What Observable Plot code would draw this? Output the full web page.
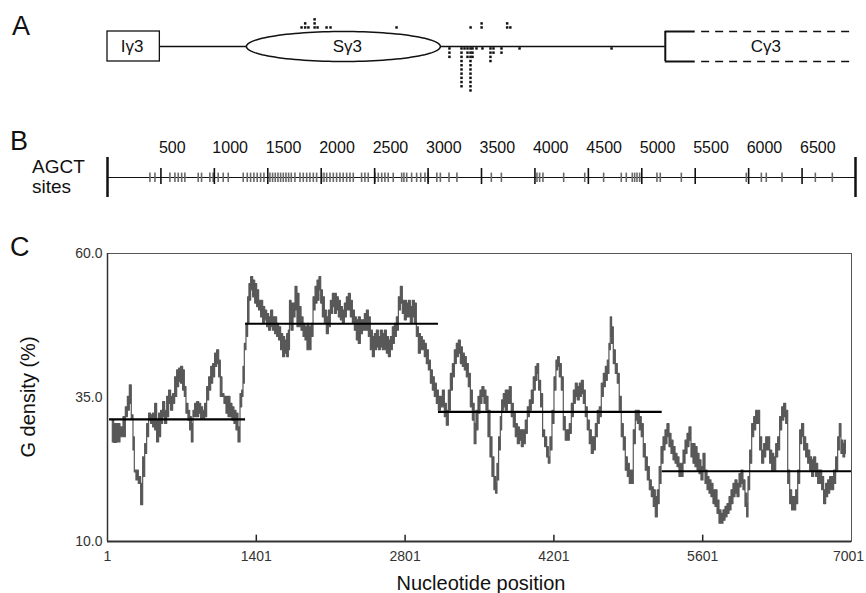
<!DOCTYPE html>
<html><head><meta charset="utf-8">
<script src="https://cdn.jsdelivr.net/npm/d3@7"></script>
<script src="https://cdn.jsdelivr.net/npm/@observablehq/plot@0.6"></script>
<style>
body{margin:0;background:#fff;}
#wrap{position:relative;width:866px;height:593px;overflow:hidden;font-family:"Liberation Sans",Arial,Helvetica,sans-serif;color:#111;}
.t{position:absolute;white-space:nowrap;line-height:1;}
.letter{font-size:27px;}
#wrap svg{position:absolute;left:0;}
</style></head>
<body><div id="wrap">
<div class="t letter" style="left:12px;top:13px">A</div>
<div class="t letter" style="left:10px;top:128px">B</div>
<div class="t letter" style="left:10px;top:234px">C</div>
<div class="t" style="left:32px;top:157px;font-size:19px">AGCT</div>
<div class="t" style="left:32px;top:177px;font-size:19px">sites</div>
<div class="t" id="ylab" style="left:28px;top:397px;font-size:20px;transform:translate(-50%,-50%) rotate(-90deg)">G density (%)</div>
<div class="t" id="xlab" style="left:481px;top:583px;font-size:20px;transform:translate(-50%,-50%)">Nucleotide position</div>
</div>
<script>
// ---------- Panel A: gene map (nucleotide coordinates) ----------
const exonNames = ["Iγ3", "Sγ3", "Cγ3"];
const exonLabelPos = [230, 2245, 6160];
const iExon = [0, 490];
const switchRegion = [1300, 3115];
const cStart = 5220, cSolidEnd = 5500, mapEnd = 7000;
// mutations above (insert row) and below the line: position, stacked count
const upPos =   [1816, 1850, 1880, 1938, 1966, 2050, 2087, 2705, 3398, 3501, 3740, 3770];
const upCount = [1,    2,    1,    3,    1,    1,    1,    1,    1,    2,    2,    1];
const downPos =   [3200, 3313, 3341, 3369, 3397, 3416, 3453, 3509, 3584, 3612, 3687, 3856, 4717];
const downCount = [3,    10,   1,    3,    11,   3,    1,    1,    4,    2,    2,    1,    1];

// ---------- Panel B: AGCT sites ----------
const scaleTicks = [500,1000,1500,2000,2500,3000,3500,4000,4500,5000,5500,6000,6500];
const agctSites = [397,444,584,631,662,694,724,849,880,958,989,1036,1083,1130,1270,1308,1339,1370,1401,1433,1464,
 1520,1545,1570,1595,1620,1645,1670,1695,1720,1754,1801,1832,1864,1894,1926,1957,2004,2026,2051,2082,2113,2144,2175,
 2206,2238,2269,2300,2378,2409,2440,2503,2534,2566,2596,2627,2674,2753,2774,2800,2846,2893,2931,2971,3002,3082,3115,
 3196,3270,3592,3686,4019,4044,4075,4269,4466,4643,4808,4855,4911,4933,4955,4980,5142,5173,5370,5978,6119,6165,6312,6624,6783];

// ---------- Panel C: G density ----------
const gPos = [51,76,107,139,164,183,202,220,239,252,264,283,308,327,346,365,383,402,421,440,459,477,496,515,534,553,572,590,609,628,647,666,684,703,722,735,753,772,785,804,816,835,854,873,891,910,929,948,967,986,1004,1023,1042,1061,1073,1092,1111,1130,1149,1167,1186,1205,1224,1243,1262,1274,1287,1299,1318,1330,1343,1362,1381,1400,1418,1437,1456,1475,1494,1512,1531,1550,1569,1588,1606,1625,1644,1663,1682,1701,1713,
1723,1742,1761,1779,1798,1817,1836,1855,1873,1892,1911,1930,1949,1968,1986,2005,2018,2037,2055,2074,2093,2112,2131,2149,2168,2187,2206,2225,2244,2262,2281,2300,2319,2338,2356,2375,2394,2413,2432,2451,2469,2488,2507,2526,2545,2563,2582,2601,2620,2639,2658,2676,2695,2714,2733,2752,2770,2789,2808,2827,2846,2864,2883,2902,2921,2940,2959,2977,2996,3015,3034,3053,3071,3090,3109,3128,3147,3166,3184,3203,3222,3241,3260,3278,3297,3316,3335,3354,3372,3391,3410,3429,3448,
3463,3482,3501,3519,3538,3557,3576,3595,3614,3632,3651,3664,3676,3695,3708,3720,3739,3758,3777,3795,3814,3833,3852,3871,3890,3908,3927,3946,3965,3984,4002,4021,4040,4053,4071,4090,4109,4128,4147,4159,4178,4197,4216,4234,4247,4266,4285,4303,4322,4341,4360,4379,4398,4416,4435,4454,4473,4492,4510,4529,4548,4567,4586,4605,4623,4642,4661,4680,4699,4717,4730,4742,4755,4774,4793,4811,4830,4849,4868,4887,4906,4924,4943,4962,4981,5000,5018,5037,5056,5075,5094,5113,5131,5150,5169,5188,
5204,5223,5242,5260,5279,5298,5317,5336,5355,5373,5392,5411,5430,5449,5467,5486,5505,5524,5543,5562,5580,5599,5618,5637,5656,5674,5693,5712,5731,5750,5768,5787,5806,5825,5844,5863,5881,5900,5919,5938,5957,5975,5994,6013,6026,6038,6057,6076,6095,6113,6132,6151,6170,6189,6208,6226,6245,6264,6283,6302,6320,6339,6358,6377,6396,6415,6433,6452,6471,6490,6509,6527,6546,6565,6584,6603,6622,6640,6659,6678,6697,6716,6734,6753,6772,6791,6810,6828,6847,6866,6885,6897,6916,6935,6948];
const gHigh = [31.0,30.4,30.4,29.8,31.6,33.3,35.1,37.1,31.9,28.1,22.3,22.3,21.2,20.0,24.6,26.9,30.4,32.2,31.9,32.2,33.9,31.0,32.2,32.7,34.2,32.7,35.1,36.2,35.1,35.6,38.5,39.7,40.0,40.3,39.7,36.8,33.9,32.7,31.6,30.4,32.7,33.9,34.2,33.9,33.3,32.7,33.9,36.8,38.5,40.3,40.8,42.6,43.2,41.4,38.5,35.6,35.1,35.1,35.1,33.9,33.3,32.7,32.2,29.8,35.6,36.2,40.3,44.3,47.8,52.4,54.7,55.9,55.3,54.7,53.6,51.8,51.8,50.7,50.1,49.5,48.9,50.1,48.9,48.9,47.8,47.2,46.0,45.5,44.9,46.0,46.6,
51.8,51.3,51.3,54.2,53.0,50.7,48.9,47.8,47.2,47.8,47.2,47.8,52.4,54.2,55.3,55.9,53.6,52.4,50.1,48.9,50.1,51.8,53.0,53.0,52.4,51.8,50.7,50.1,51.3,52.4,53.0,51.8,50.1,48.9,48.4,48.9,48.4,48.4,49.5,50.1,48.9,46.6,45.5,46.0,46.6,45.5,46.6,46.0,46.6,45.5,44.9,45.5,47.2,47.8,48.9,52.4,54.2,51.8,51.8,51.3,51.8,50.7,51.8,51.3,47.2,46.0,45.5,44.9,44.3,43.2,41.4,39.7,38.5,37.4,36.2,35.1,35.1,36.2,33.9,32.7,36.2,39.1,40.8,43.2,44.3,44.9,43.7,42.6,42.0,40.8,39.1,36.2,33.9,
30.4,32.7,35.1,36.2,36.8,36.2,35.1,32.7,28.1,24.6,21.2,20.0,23.5,28.1,31.6,34.5,35.6,36.2,36.2,36.8,33.9,32.2,30.4,29.8,29.3,29.3,29.3,31.0,33.3,34.5,36.2,38.5,40.3,40.8,37.9,35.6,29.3,28.1,26.4,24.6,28.1,32.7,38.5,41.4,42.0,40.8,38.5,31.6,29.3,29.3,30.4,33.9,36.2,37.4,36.8,37.4,37.9,36.2,33.3,31.0,29.3,28.1,28.1,30.4,32.7,33.3,37.4,39.1,40.3,41.4,44.3,48.9,47.2,43.2,40.8,39.1,35.1,30.4,28.1,24.6,23.5,22.3,22.3,29.3,32.7,32.7,31.6,30.4,26.9,24.6,22.9,20.6,19.4,18.9,17.7,18.9,
22.9,26.4,28.1,29.3,30.4,28.7,27.5,26.4,25.2,24.6,23.5,23.5,25.8,27.5,28.7,29.8,26.9,26.9,26.4,25.2,24.1,22.9,25.2,22.3,21.2,20.6,20.0,18.9,18.9,17.1,15.4,14.8,15.4,16.0,16.5,17.7,18.9,20.0,20.6,20.0,21.7,22.3,20.6,18.3,16.5,21.2,25.8,30.4,31.6,32.7,32.7,28.1,25.8,26.9,28.1,28.1,25.8,25.2,24.6,26.9,28.1,31.6,33.3,33.9,32.7,22.3,18.9,17.7,17.7,18.9,22.3,29.3,30.4,28.1,26.9,25.8,24.6,24.1,24.6,23.5,22.3,22.3,21.2,18.9,20.0,20.6,21.2,21.2,22.3,24.6,28.1,30.4,27.5,26.9,27.5];
const gLow = [27.2,27.1,27.2,28.1,28.1,31.6,32.7,33.9,31.3,25.8,22.0,20.6,20.0,16.3,21.2,25.2,28.1,31.0,30.4,29.8,29.3,27.2,28.1,30.4,31.6,30.4,31.6,33.9,32.7,33.9,35.1,36.8,37.7,37.4,36.2,35.1,32.2,31.0,29.3,27.2,31.6,31.6,31.6,32.2,31.3,31.3,31.6,34.5,36.2,37.4,38.5,40.3,40.8,38.5,35.1,35.1,33.9,32.2,31.6,31.6,31.0,30.4,29.3,27.2,33.3,35.1,37.4,43.2,45.5,47.8,51.8,53.6,52.4,51.3,50.7,50.1,48.9,47.8,48.4,47.2,46.6,47.2,46.6,46.0,45.5,44.9,43.2,42.0,42.6,42.0,43.2,
47.8,46.6,48.9,50.1,47.2,47.2,46.6,45.5,44.9,43.2,43.2,45.5,50.1,51.3,51.8,53.6,51.3,48.9,47.8,46.0,47.2,49.5,50.7,49.5,50.1,48.9,48.4,47.8,48.9,50.1,50.1,48.9,47.8,46.6,44.9,44.3,46.0,46.6,46.6,46.6,45.5,43.2,42.0,43.2,43.7,43.2,43.7,43.2,43.2,42.6,42.0,43.2,44.3,45.5,46.6,50.1,51.3,49.5,48.4,48.9,48.9,47.8,48.9,47.8,45.5,42.6,43.2,43.2,42.0,40.8,39.7,37.4,36.2,35.1,33.9,32.7,33.3,33.3,31.6,30.1,32.7,36.2,38.5,40.8,42.0,42.6,40.8,40.3,39.7,38.5,36.8,33.3,31.0,
26.9,29.3,32.2,33.9,35.1,33.9,32.7,28.1,24.6,21.2,18.9,18.3,20.6,25.8,29.3,32.7,33.3,32.7,33.9,33.9,31.6,29.8,28.1,26.9,27.5,26.4,26.9,28.7,31.6,32.7,33.9,36.2,37.9,39.1,36.2,33.3,28.1,26.4,24.6,23.5,25.8,30.4,36.2,39.7,40.3,38.5,36.2,29.3,27.5,27.5,28.7,31.6,33.9,35.1,34.5,35.1,35.6,33.9,31.6,29.3,26.9,25.2,25.8,28.1,30.4,31.6,35.1,36.8,37.9,39.1,43.2,45.5,44.3,40.8,39.1,37.4,32.7,28.1,25.8,22.3,21.2,20.0,20.0,26.9,31.0,30.4,29.3,28.1,24.6,22.3,20.6,18.9,17.7,16.0,14.2,16.5,
20.0,23.5,25.8,26.9,28.1,26.4,25.2,24.1,23.5,22.9,21.2,21.2,23.5,25.2,26.4,27.5,24.6,23.5,22.9,22.3,21.7,20.6,22.3,20.0,18.9,18.3,17.7,16.5,16.0,14.8,13.1,13.1,13.6,14.2,14.8,15.4,16.5,17.7,18.3,17.7,19.4,20.0,18.9,16.0,14.2,18.9,23.5,28.1,29.3,30.4,30.4,25.8,23.5,24.6,25.8,25.8,23.5,22.3,22.3,24.6,25.8,29.3,31.0,31.6,30.4,20.0,16.5,15.4,15.4,16.5,20.0,26.9,28.1,25.8,24.6,23.5,22.3,21.2,22.3,21.2,20.0,20.0,18.9,16.5,17.7,18.3,18.9,18.9,20.0,22.3,25.8,28.1,25.2,24.6,25.2];
// region means (horizontal bars)
const segStart = [20, 1300, 3115, 5220];
const segEnd   = [1300, 3115, 5220, 7001];
const segMean  = [31.2, 47.8, 32.5, 22.2];
const xTicks = [1, 1401, 2801, 4201, 5601, 7001];
const yTicks = [10, 35, 60];

const wrap = document.getElementById("wrap");
const font = {fontFamily: '"Liberation Sans", Arial, Helvetica, sans-serif', background: "transparent", overflow: "visible", color: "#111"};

// ---- Panel A ----
const mid = (switchRegion[0] + switchRegion[1]) / 2, half = (switchRegion[1] - switchRegion[0]) / 2;
const ellipse = d3.range(0, 361, 3).map(a => ({x: mid + half * Math.cos(a * Math.PI / 180), y: Math.sin(a * Math.PI / 180)}));
const upDots = upPos.flatMap((p, i) => d3.range(upCount[i]).map(k => ({x: p, y: 1.27 + k * 0.27})));
const downDots = downPos.flatMap((p, i) => d3.range(downCount[i]).map(k => ({x: p, y: -0.13 - k * 0.28})));
const labelsA = exonNames.map((n, i) => ({name: n, x: exonLabelPos[i]}));
const plotA = Plot.plot({
  width: 866, height: 110, marginLeft: 107, marginRight: 11, marginTop: 31, marginBottom: 49,
  x: {domain: [0, mapEnd], axis: null}, y: {domain: [-1, 1], axis: null},
  style: font,
  marks: [
    Plot.ruleY([{a: iExon[1], b: cStart}], {x1: "a", x2: "b", y: () => 0, stroke: "#111", strokeWidth: 1.5}),
    Plot.line(ellipse, {x: "x", y: "y", fill: "white", stroke: "#111", strokeWidth: 1.5}),
    Plot.rect([{a: iExon[0], b: iExon[1]}], {x1: "a", x2: "b", y1: () => -1, y2: () => 1, fill: "white", stroke: "#111", strokeWidth: 1.3}),
    Plot.ruleX([cStart], {y1: () => -1, y2: () => 1, stroke: "#111", strokeWidth: 2}),
    Plot.ruleY([-1, 1], {x1: () => cStart, x2: () => cSolidEnd, stroke: "#111", strokeWidth: 2}),
    Plot.ruleY([-1, 1], {x1: () => cSolidEnd + 60, x2: () => mapEnd, stroke: "#111", strokeWidth: 1.6, strokeDasharray: "8,6"}),
    Plot.text(labelsA, {x: "x", y: () => 0, text: "name", fontSize: 17, fill: "#111"}),
    Plot.dot(upDots, {x: "x", y: "y", symbol: "square", r: 1.4, fill: "#111", stroke: "none"}),
    Plot.dot(downDots, {x: "x", y: "y", symbol: "square", r: 1.4, fill: "#111", stroke: "none"})
  ]
});
plotA.style.top = "0px";
wrap.appendChild(plotA);

// ---- Panel B ----
const plotB = Plot.plot({
  width: 866, height: 80, marginLeft: 107, marginRight: 11, marginTop: 27, marginBottom: 13,
  x: {domain: [0, 7000], axis: null}, y: {domain: [-1, 1], axis: null},
  style: font,
  marks: [
    Plot.ruleY([0], {x1: () => 0, x2: () => 7000, stroke: "#111", strokeWidth: 1.2}),
    Plot.ruleX(agctSites, {y1: () => -0.25, y2: () => 0.22, stroke: "#6a6a6a", strokeWidth: 1.6}),
    Plot.ruleX(scaleTicks, {y1: () => -0.35, y2: () => 0.45, stroke: "#111", strokeWidth: 1.6}),
    Plot.ruleX([0, 7000], {y1: () => -1, y2: () => 1, stroke: "#111", strokeWidth: 2.5}),
    Plot.text(scaleTicks, {x: d => d, y: () => 1.5, text: d => String(d), textAnchor: "start", dx: -2, fontSize: 16, fill: "#111"})
  ]
});
plotB.style.top = "130px";
wrap.appendChild(plotB);

// ---- Panel C ----
const series = gPos.map((p, i) => ({pos: p, hi: gHigh[i], lo: gLow[i]}));
const segments = segStart.map((s, i) => ({start: s, end: segEnd[i], mean: segMean[i]}));
const plotC = Plot.plot({
  width: 866, height: 373, marginLeft: 107, marginRight: 15, marginTop: 33, marginBottom: 52,
  x: {domain: [1, 7001], axis: null},
  y: {domain: [10, 60], ticks: yTicks, tickSize: 0, tickPadding: 5, tickFormat: d => d.toFixed(1), label: null},
  style: {...font, fontSize: "14px", color: "#333"},
  marks: [
    Plot.frame({stroke: "#555", strokeWidth: 1}),
    Plot.areaY(series, {x: "pos", y1: "lo", y2: "hi", curve: "step", fill: "#585858", stroke: "#585858", strokeWidth: 1.2}),
    Plot.ruleY(segments, {x1: "start", x2: "end", y: "mean", stroke: "#000", strokeWidth: 2.2}),
    Plot.ruleX(xTicks.slice(1, -1), {y1: () => 10, y2: () => 11.1, stroke: "#222", strokeWidth: 1.5}),
    Plot.ruleY([10], {stroke: "#333", strokeWidth: 2}),
    Plot.ruleX([1], {stroke: "#333", strokeWidth: 1.5}),
    Plot.text(xTicks.slice(0, -1), {x: d => d, y: () => 10, dy: 15, text: d => String(d), fontSize: 14, fill: "#333"}),
    Plot.text(xTicks.slice(-1), {x: d => d, y: () => 10, dy: 15, dx: -3, text: d => String(d), fontSize: 14, fill: "#333"})
  ]
});
plotC.style.top = "220px";
wrap.appendChild(plotC);
</script>
</body></html>
